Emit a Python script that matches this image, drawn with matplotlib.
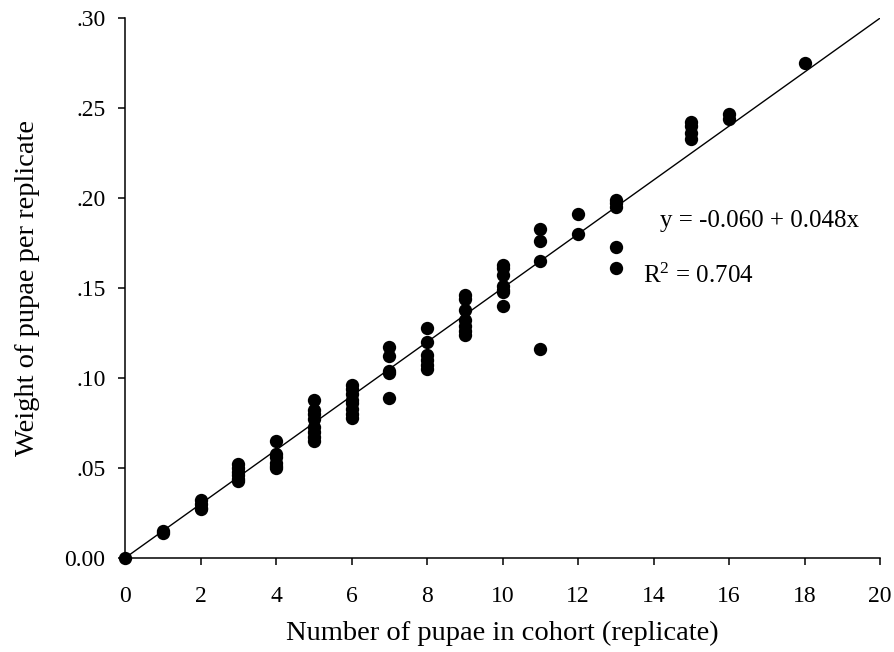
import numpy as np
import matplotlib
matplotlib.use("Agg")
import matplotlib.pyplot as plt
from matplotlib.ticker import FuncFormatter

plt.rcParams['font.family'] = ['Liberation Serif', 'DejaVu Serif']
plt.rcParams['mathtext.fontset'] = 'custom'
plt.rcParams['mathtext.rm'] = 'Liberation Serif'
plt.rcParams['mathtext.it'] = 'Liberation Serif:italic'

# number of pupae per cohort and the corresponding weights
pupae_count = [0,
               1, 1,
               2, 2, 2, 2,
               3, 3, 3, 3, 3, 3,
               4, 4, 4, 4, 4, 4,
               5, 5, 5, 5, 5, 5, 5, 5,
               6, 6, 6, 6, 6, 6, 6, 6,
               7, 7, 7, 7, 7,
               8, 8, 8, 8, 8, 8,
               9, 9, 9, 9, 9, 9, 9,
               10, 10, 10, 10, 10, 10, 10,
               11, 11, 11, 11,
               12, 12,
               13, 13, 13, 13, 13,
               15, 15, 15, 15,
               16, 16,
               18]
pupae_weight = [0.000,
                0.014, 0.015,
                0.032, 0.030, 0.028, 0.027,
                0.052, 0.050, 0.048, 0.046, 0.044, 0.043,
                0.065, 0.058, 0.056, 0.053, 0.051, 0.050,
                0.088, 0.082, 0.080, 0.077, 0.073, 0.070, 0.067, 0.065,
                0.096, 0.094, 0.091, 0.088, 0.086, 0.083, 0.080, 0.078,
                0.117, 0.112, 0.104, 0.103, 0.089,
                0.128, 0.120, 0.113, 0.110, 0.107, 0.105,
                0.146, 0.144, 0.138, 0.132, 0.129, 0.126, 0.124,
                0.163, 0.161, 0.157, 0.151, 0.149, 0.148, 0.140,
                0.183, 0.176, 0.165, 0.116,
                0.191, 0.180,
                0.199, 0.197, 0.195, 0.173, 0.161,
                0.242, 0.240, 0.236, 0.233,
                0.247, 0.244,
                0.275]

# reference line drawn in the figure
line_x = [0, 20]
line_y = [0.0, 0.30]

equation_text = 'y = -0.060 + 0.048x'
r2_text = r'R$^{\mathrm{2}}$ = 0.704'

fig = plt.figure(figsize=(8.95, 6.52), dpi=100)
ax = fig.add_axes([0.1397, 0.1442, 0.8436, 0.828])

ax.plot(line_x, line_y, color='black', lw=1.0, zorder=2)
ax.scatter(pupae_count, pupae_weight, s=92, color='black', zorder=3,
           clip_on=False, linewidths=0)

ax.set_xlim(0, 20)
ax.set_ylim(0, 0.30)
ax.set_xticks(np.arange(0, 21, 2))
ax.set_yticks(np.arange(0, 0.301, 0.05))


def fmt_y(v, pos):
    if abs(v) < 1e-9:
        return '0.00'
    return ('%.2f' % v).lstrip('0')


ax.yaxis.set_major_formatter(FuncFormatter(fmt_y))

for side in ['top', 'right']:
    ax.spines[side].set_visible(False)
for side in ['left', 'bottom']:
    ax.spines[side].set_linewidth(1.1)

ax.tick_params(direction='out', length=5, width=1.1, labelsize=17)
ax.tick_params(axis='x', pad=15)
ax.tick_params(axis='y', pad=9)
ax.set_xlabel('Number of pupae in cohort (replicate)', fontsize=20.5, labelpad=10)
ax.set_ylabel('Weight of pupae per replicate', fontsize=20.5, labelpad=17.5)

ax.text(14.17, 0.184, equation_text, fontsize=18, va='baseline', ha='left')
ax.text(13.72, 0.1528, r2_text, fontsize=18, va='baseline', ha='left')

fig.savefig('out.png', dpi=100)
